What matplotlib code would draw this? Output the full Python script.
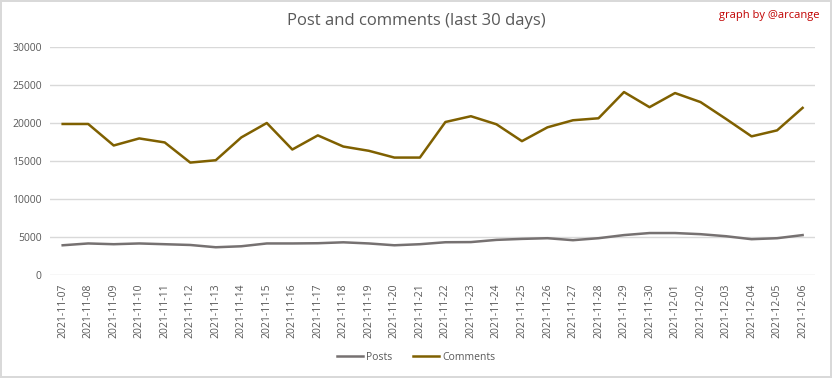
import numpy as np
import matplotlib.pyplot as plt

plt.rcParams['font.family'] = ['Open Sans', 'DejaVu Sans']

dates = ['2021-11-07', '2021-11-08', '2021-11-09', '2021-11-10', '2021-11-11',
         '2021-11-12', '2021-11-13', '2021-11-14', '2021-11-15', '2021-11-16',
         '2021-11-17', '2021-11-18', '2021-11-19', '2021-11-20', '2021-11-21',
         '2021-11-22', '2021-11-23', '2021-11-24', '2021-11-25', '2021-11-26',
         '2021-11-27', '2021-11-28', '2021-11-29', '2021-11-30', '2021-12-01',
         '2021-12-02', '2021-12-03', '2021-12-04', '2021-12-05', '2021-12-06']
posts = [3910, 4150, 4050, 4150, 4050, 3950, 3650, 3780, 4150, 4150,
         4180, 4300, 4150, 3910, 4050, 4310, 4330, 4620, 4750, 4840,
         4580, 4840, 5250, 5520, 5520, 5370, 5100, 4710, 4840, 5250]
comments = [19870, 19870, 17040, 17970, 17440, 14790, 15100, 18100, 20000, 16510,
            18370, 16900, 16340, 15450, 15450, 20130, 20890, 19830, 17610, 19430,
            20360, 20620, 24070, 22080, 23940, 22750, 20530, 18240, 19030, 21990]
yticks = [0, 5000, 10000, 15000, 20000, 25000, 30000]

fig = plt.figure(figsize=(8.32, 3.78), dpi=100)
fig.patch.set_edgecolor('#d9d9d9')
fig.patch.set_linewidth(1.5)
ax = fig.add_axes([0.06, 0.2725, 0.92, 0.6032])

x = np.arange(len(dates))
ax.plot(x, posts, color='#767171', lw=1.8, label='Posts')
ax.plot(x, comments, color='#7f6000', lw=1.8, label='Comments')

ax.set_xlim(-0.5, 29.5)
ax.set_ylim(0, 30000)
ax.set_yticks(yticks)
ax.set_yticklabels([str(v) for v in yticks], fontsize=7.5, color='#595959')
ax.set_xticks(x)
ax.set_xticklabels(dates, rotation=90, fontsize=7.5, color='#595959')
ax.tick_params(length=0, pad=6)
ax.grid(axis='y', color='#d9d9d9', lw=1)
ax.set_axisbelow(True)
for s in ax.spines.values():
    s.set_visible(False)

fig.text(0.5, 0.945, 'Post and comments (last 30 days)', ha='center', va='center',
         fontsize=12, color='#595959')
fig.text(0.985, 0.96, 'graph by @arcange', ha='right', va='center',
         fontsize=8, color='#c00000')
fig.legend(loc='center', bbox_to_anchor=(0.5, 0.055), ncol=2, frameon=False,
           fontsize=7.5, labelcolor='#595959', handlelength=2.5, columnspacing=2,
           handletextpad=0.3)

fig.savefig('out.png', dpi=100)
